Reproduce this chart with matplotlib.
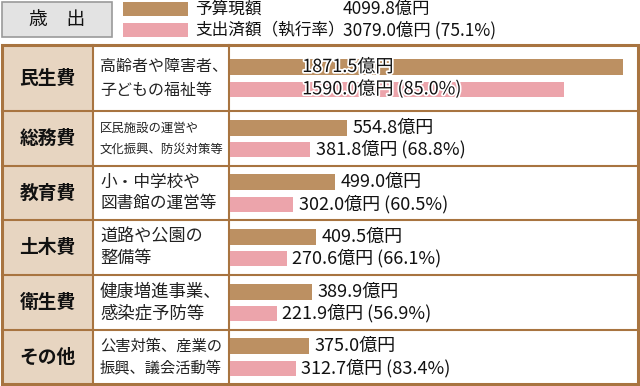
import matplotlib
matplotlib.use('Agg')
import matplotlib.pyplot as plt
import matplotlib.patheffects as pe
from matplotlib.patches import Rectangle

plt.rcParams['font.family'] = ['Noto Sans CJK JP', 'DejaVu Sans']

# data
categories = ['民生費', '総務費', '教育費', '土木費', '衛生費', 'その他']
descriptions = [['高齢者や障害者、', '子どもの福祉等'],
                ['区民施設の運営や', '文化振興、防災対策等'],
                ['小・中学校や', '図書館の運営等'],
                ['道路や公園の', '整備等'],
                ['健康増進事業、', '感染症予防等'],
                ['公害対策、産業の', '振興、議会活動等']]
budget = [1871.5, 554.8, 499.0, 409.5, 389.9, 375.0]
spent = [1590.0, 381.8, 302.0, 270.6, 221.9, 312.7]
rates = [85.0, 68.8, 60.5, 66.1, 56.9, 83.4]
total_budget = 4099.8
total_spent = 3079.0
total_rate = 75.1

# description text is squeezed to fit the cell in the original
desc_size = [11.5, 8.9, 12, 12.3, 12.5, 11]

c_budget = '#bc9062'
c_spent = '#eca4ab'
c_border = '#a87440'
c_catfill = '#e7d5c1'

W, H = 640, 386
fig = plt.figure(figsize=(W / 100, H / 100), dpi=100)
bg = fig.add_axes([0, 0, 1, 1])
bg.set_xlim(0, W)
bg.set_ylim(H, 0)
bg.axis('off')

# header box + legend
bg.add_patch(Rectangle((2, 2), 110, 35, facecolor='#e3e3e3', edgecolor='#9a9a9a', lw=1.2))
bg.text(57, 20, '歳　出', ha='center', va='center', fontsize=13.5, color='#111')
bg.add_patch(Rectangle((123, 2), 65, 14, facecolor=c_budget, edgecolor='none'))
bg.add_patch(Rectangle((123, 23), 65, 14, facecolor=c_spent, edgecolor='none'))
bg.text(195, 9, '予算現額', ha='left', va='center', fontsize=12, color='#111')
bg.text(195, 30, '支出済額（執行率）', ha='left', va='center', fontsize=12, color='#111')
bg.text(343, 9, f'{total_budget:.1f}億円', ha='left', va='center', fontsize=12.5, color='#111')
bg.text(343, 30, f'{total_spent:.1f}億円 ({total_rate:.1f}%)', ha='left', va='center',
        fontsize=12.5, color='#111')

# table layout
edges = [45, 111, 166, 220, 275, 330, 384]
x0, xc, xd, x1 = 2, 93, 229, 638
centers = []
for i in range(len(categories)):
    top, bot = edges[i], edges[i + 1]
    cy = (top + bot) / 2
    centers.append(cy)
    bg.add_patch(Rectangle((x0, top), xc - x0, bot - top, facecolor=c_catfill, edgecolor='none'))
    bg.text((x0 + xc) / 2, cy, categories[i], ha='center', va='center',
            fontsize=13.5, fontweight='bold', color='#111')
    off = 12 if i == 0 else 10.5
    for k, line in enumerate(descriptions[i]):
        bg.text(100, cy + (2 * k - 1) * off, line, ha='left', va='center',
                fontsize=desc_size[i], color='#222')
for y in edges[1:-1]:
    bg.plot([x0, x1], [y, y], color=c_border, lw=1.5)
bg.plot([xc, xc], [edges[0], edges[-1]], color=c_border, lw=1.5)
bg.plot([xd, xd], [edges[0], edges[-1]], color=c_border, lw=1.5)
bg.add_patch(Rectangle((x0, edges[0]), x1 - x0, edges[-1] - edges[0], facecolor='none',
                       edgecolor=c_border, lw=2.2))

# bars
px_per_unit = 0.21
ax = fig.add_axes([230 / W, 0, (x1 - 231) / W, 1])
ax.set_xlim(0, (x1 - 231) / px_per_unit)
ax.set_ylim(H, 0)
ax.axis('off')
yb = [c - 11 for c in centers]
ys = [c + 11 for c in centers]
ax.barh(yb, budget, height=16, color=c_budget)
ax.barh(ys, spent, height=15, color=c_spent)

halo = [pe.withStroke(linewidth=2.5, foreground='white')]
for i in range(len(categories)):
    lb = f'{budget[i]:.1f}億円'
    ls = f'{spent[i]:.1f}億円 ({rates[i]:.1f}%)'
    if budget[i] > 1000:
        ax.annotate(lb, (0, yb[i]), xytext=(52, 0), textcoords='offset points',
                    ha='left', va='center', fontsize=13, color='#111', path_effects=halo)
        ax.annotate(ls, (0, ys[i]), xytext=(52, 0), textcoords='offset points',
                    ha='left', va='center', fontsize=13, color='#111', path_effects=halo)
    else:
        ax.annotate(lb, (budget[i], yb[i]), xytext=(4, 0), textcoords='offset points',
                    ha='left', va='center', fontsize=13, color='#111')
        ax.annotate(ls, (spent[i], ys[i]), xytext=(4, 0), textcoords='offset points',
                    ha='left', va='center', fontsize=13, color='#111')

fig.savefig('out.png', dpi=100)
